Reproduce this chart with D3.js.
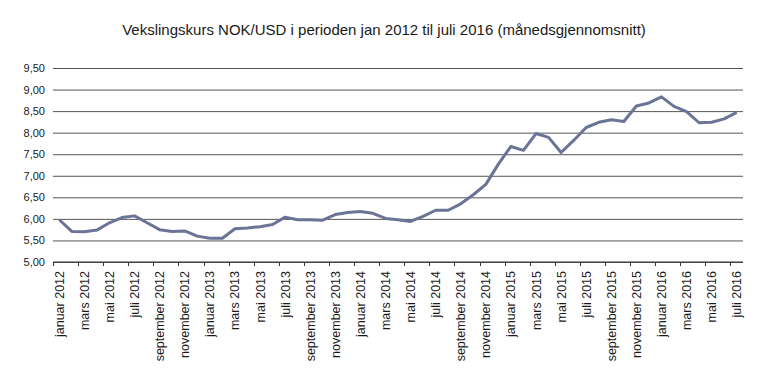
<!DOCTYPE html>
<html>
<head>
	<meta charset="utf-8">
	<title>Vekslingskurs NOK/USD</title>
	<script src="https://cdnjs.cloudflare.com/ajax/libs/d3/7.8.5/d3.min.js"></script>
	<style>
		body { margin: 0; background: white; }
		text {
			font-family: "Liberation Sans", Arial, sans-serif;
			fill: #1a1a1a;
		}
		.title { font-size: 15px; }
		.tick text { font-size: 11px; }
	</style>
</head>
<body>
	<svg id="main" width="766" height="386"></svg>

	<script>
		var months = ['januar', 'februar', 'mars', 'april', 'mai', 'juni',
			'juli', 'august', 'september', 'oktober', 'november', 'desember'];
		var years = [2012, 2013, 2014, 2015, 2016];

		// monthly averages, jan 2012 - jul 2016
		var rates = [
			5.98, 5.71, 5.70, 5.74, 5.91, 6.03, 6.07, 5.91, 5.75, 5.71, 5.72, 5.60,
			5.55, 5.55, 5.77, 5.79, 5.82, 5.87, 6.04, 5.98, 5.98, 5.97, 6.10, 6.15,
			6.17, 6.13, 6.01, 5.98, 5.94, 6.06, 6.20, 6.20, 6.35, 6.56, 6.80, 7.27,
			7.68, 7.59, 7.98, 7.89, 7.54, 7.82, 8.12, 8.24, 8.30, 8.26, 8.62, 8.69,
			8.83, 8.61, 8.49, 8.23, 8.24, 8.32, 8.47
		];
		var yTicks = [5.0, 5.5, 6.0, 6.5, 7.0, 7.5, 8.0, 8.5, 9.0, 9.5];

		var labels = [];
		years.forEach(function(y) {
			months.forEach(function(m) { labels.push(m + ' ' + y); });
		});
		labels = labels.slice(0, rates.length);

		var LEFT = 53, RIGHT = 743, TOP = 68, BOTTOM = 262;
		var svg = d3.select('#main');

		svg.append('text')
			.attr('class', 'title')
			.attr('x', 384)
			.attr('y', 35)
			.attr('text-anchor', 'middle')
			.text('Vekslingskurs NOK/USD i perioden jan 2012 til juli 2016 (månedsgjennomsnitt)');

		var x = d3.scaleBand().domain(labels).range([LEFT, RIGHT]);
		var y = d3.scaleLinear().domain([5, 9.5]).range([BOTTOM, TOP]);
		var fmt = function(d) { return d3.format('.2f')(d).replace('.', ','); };

		// gridlines + y labels
		var yAxis = svg.append('g')
			.attr('transform', 'translate(' + LEFT + ',0)')
			.call(d3.axisLeft(y).tickValues(yTicks).tickFormat(fmt)
				.tickSize(-(RIGHT - LEFT)).tickPadding(8));
		yAxis.select('.domain').remove();
		yAxis.selectAll('.tick line').attr('stroke', '#555');

		// category axis, ticks between every second month
		var xAxis = svg.append('g')
			.attr('transform', 'translate(0,' + BOTTOM + ')');
		xAxis.append('line')
			.attr('x1', LEFT).attr('x2', RIGHT)
			.attr('stroke', '#333');
		var tickCats = labels.filter(function(d, i) { return i % 2 === 0; });
		xAxis.selectAll('.tk').data(tickCats).enter().append('line')
			.attr('x1', function(d) { return Math.round(x(d)) + 0.5; })
			.attr('x2', function(d) { return Math.round(x(d)) + 0.5; })
			.attr('y1', 0).attr('y2', 4)
			.attr('stroke', '#333');
		xAxis.selectAll('.lbl').data(tickCats).enter().append('text')
			.attr('class', 'tick')
			.attr('transform', function(d) {
				return 'translate(' + (x(d) + x.bandwidth() / 2 + 4.5) + ',9) rotate(-90)';
			})
			.attr('text-anchor', 'end')
			.style('font-size', '12.5px')
			.text(function(d) { return d; });

		var line = d3.line()
			.x(function(d, i) { return x(labels[i]) + x.bandwidth() / 2; })
			.y(function(d) { return y(d); });

		svg.append('path')
			.datum(rates)
			.attr('d', line)
			.attr('fill', 'none')
			.attr('stroke', '#6b7397')
			.attr('stroke-width', 3)
			.attr('stroke-linejoin', 'round');
	</script>
</body>
</html>
